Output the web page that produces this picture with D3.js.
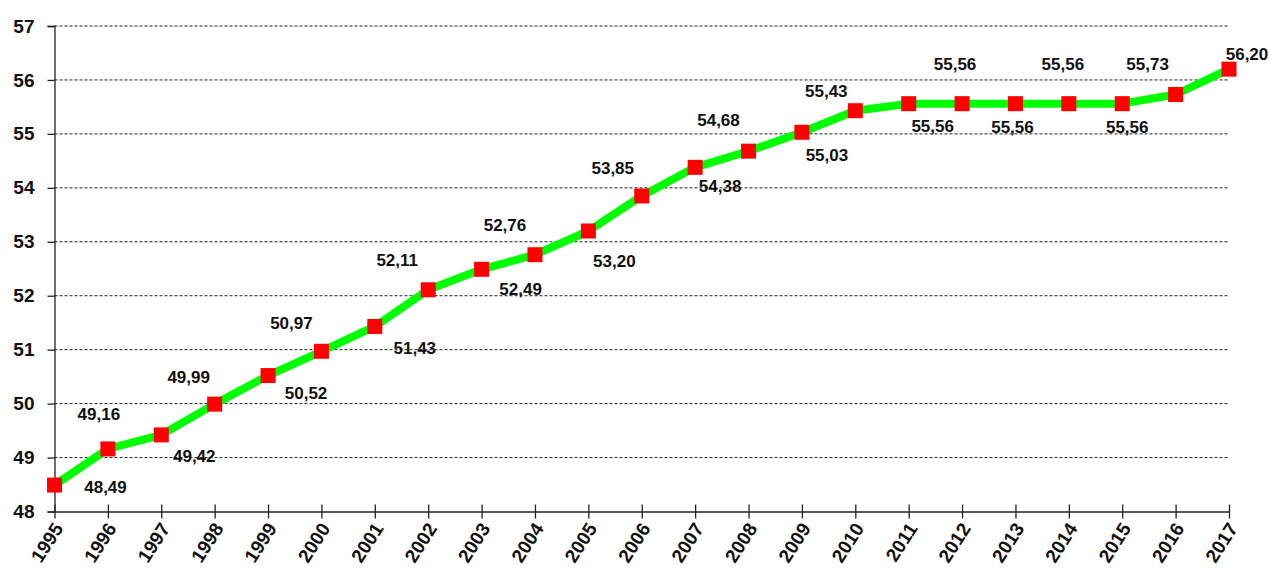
<!DOCTYPE html>
<html><head><meta charset="utf-8">
<script src="https://cdn.jsdelivr.net/npm/d3@7"></script>
<style>
body{margin:0;background:#fff;}
text{font-family:"Liberation Sans",Arial,sans-serif;font-weight:bold;fill:#111;}
</style></head>
<body><svg id="c" width="1270" height="572"></svg>
<script>
const years = ["1995","1996","1997","1998","1999","2000","2001","2002","2003","2004","2005","2006","2007","2008","2009","2010","2011","2012","2013","2014","2015","2016","2017"];
const values = [48.49,49.16,49.42,49.99,50.52,50.97,51.43,52.11,52.49,52.76,53.20,53.85,54.38,54.68,55.03,55.43,55.56,55.56,55.56,55.56,55.56,55.73,56.20];
const yTicks = [48,49,50,51,52,53,54,55,56,57];
// label offsets (layout only) relative to each point
const labelDx = [51,-9,33,-26,38,-30,40,-31,39,-30,26,-29,25,-30,25,-29,24,-7,-3,-6,5,-28,18];
const labelDy = [2,-34,22,-27,18,-28,22,-29,20,-29,31,-27,19,-31,23,-19,23,-39,24,-39,24,-30,-15];

const svg = d3.select("#c");
const pL = 54.5, pR = 1229, pT = 26, pB = 511.5;
const x = d3.scalePoint().domain(years).range([pL, pR]);
const y = d3.scaleLinear().domain([48,57]).range([pB, pT]);

// gridlines
svg.append("g").selectAll("line").data(yTicks.slice(1)).join("line")
  .attr("x1", pL).attr("x2", pR)
  .attr("y1", d=>y(d)).attr("y2", d=>y(d))
  .attr("stroke","#222").attr("stroke-width",1).attr("stroke-dasharray","3,2");

// y axis
const ya = svg.append("g").attr("transform",`translate(${pL},0)`)
  .call(d3.axisLeft(y).tickValues(yTicks).tickFormat(d3.format("d")).tickSize(7).tickPadding(13));
ya.select(".domain").attr("stroke","#222").attr("stroke-width",1.3);
ya.selectAll(".tick line").attr("stroke","#222").attr("stroke-width",1.3);
ya.selectAll("text").style("font-size","19px").attr("fill","#111");

// x axis
const xa = svg.append("g").attr("transform",`translate(0,${pB})`)
  .call(d3.axisBottom(x).tickSizeInner(7).tickSizeOuter(0));
xa.select(".domain").attr("stroke","#222").attr("stroke-width",1.3);
xa.selectAll(".tick line").attr("stroke","#222").attr("stroke-width",1.3).attr("y1",-7);
xa.selectAll("text").style("font-size","19px").attr("fill","#111")
  .attr("text-anchor","end").attr("dy",null).attr("y",null)
  .attr("transform","translate(9,17) rotate(-57)");

// line
svg.append("path").datum(values)
  .attr("d", d3.line().x((d,i)=>x(years[i])).y(d=>y(d)))
  .attr("fill","none").attr("stroke","#00ff00").attr("stroke-width",8).attr("stroke-linejoin","round");

// markers
const ms = 15;
svg.append("g").selectAll("rect").data(values).join("rect")
  .attr("x",(d,i)=>x(years[i])-ms/2).attr("y",d=>y(d)-ms/2)
  .attr("width",ms).attr("height",ms).attr("fill","#ff0000");

// labels
const fmt = d=>d3.format(".2f")(d).replace(".",",");
svg.append("g").selectAll("text").data(values).join("text")
  .attr("x",(d,i)=>x(years[i])+labelDx[i]).attr("y",(d,i)=>y(d)+labelDy[i])
  .attr("text-anchor","middle").attr("dominant-baseline","central")
  .style("font-size","17px").text(fmt);
</script></body></html>
